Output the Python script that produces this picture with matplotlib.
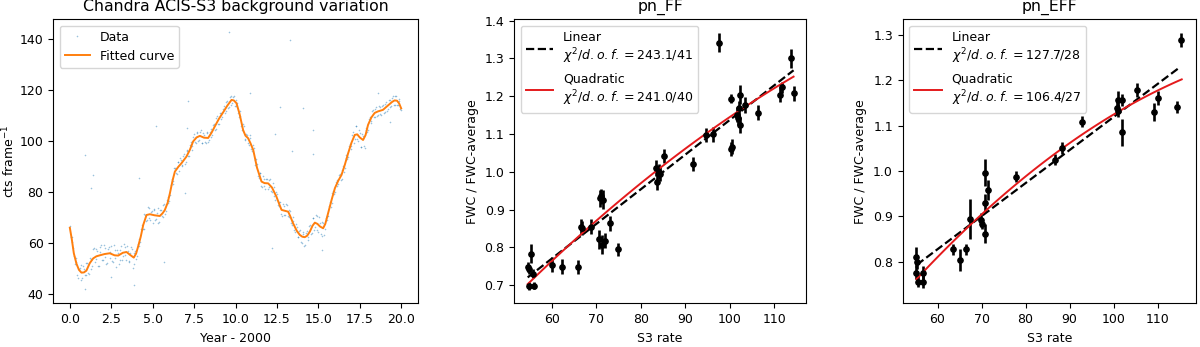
import numpy as np
import matplotlib
matplotlib.use("Agg")
import matplotlib.pyplot as plt

plt.rcParams["font.size"] = 9

years = [round(0.1 * i, 1) for i in range(201)]
rates = [
    66.6, 60.5, 58.1, 51.8, 52.6, 46.3, 50.5, 45.6, 51.0, 47.7,
    52.4, 48.2, 54.2, 49.9, 57.6, 52.7, 57.6, 51.2, 56.5, 59.2,
    53.3, 58.3, 51.9, 57.7, 54.2, 59.1, 52.6, 57.3, 50.6, 56.1,
    53.3, 58.8, 54.9, 58.5, 53.3, 57.1, 53.2, 58.4, 50.5, 56.3,
    54.0, 59.8, 59.0, 65.7, 65.6, 71.4, 68.7, 74.1, 69.8, 72.4,
    68.1, 73.2, 69.5, 73.7, 68.3, 72.9, 70.2, 75.4, 72.7, 78.3,
    76.6, 82.8, 83.1, 89.6, 87.4, 91.8, 88.3, 92.7, 90.8, 95.1,
    91.7, 96.3, 94.4, 99.6, 98.1, 102.7, 99.3, 103.2, 100.5, 104.3,
    99.2, 102.5, 99.3, 103.1, 100.6, 104.8, 102.4, 106.7, 104.9, 109.8,
    106.9, 111.1, 109.6, 113.8, 111.7, 115.7, 113.3, 117.8, 114.9, 117.7,
    113.8, 115.0, 109.4, 110.0, 104.6, 105.9, 100.6, 102.6, 98.6, 101.1,
    96.2, 97.5, 90.8, 91.2, 85.6, 87.4, 82.1, 85.1, 81.3, 85.3,
    82.1, 85.2, 80.2, 82.0, 77.1, 79.3, 74.5, 76.0, 70.7, 74.5,
    71.2, 75.2, 70.4, 72.6, 67.0, 68.8, 64.4, 66.5, 62.5, 65.2,
    60.0, 63.7, 59.5, 64.8, 62.3, 67.0, 63.9, 70.0, 66.2, 70.6,
    64.4, 68.1, 62.7, 68.0, 65.7, 70.9, 70.8, 76.0, 75.7, 80.5,
    80.2, 84.8, 83.4, 87.0, 85.3, 90.2, 89.6, 94.5, 93.7, 98.9,
    98.1, 103.8, 100.8, 105.8, 100.1, 103.4, 97.6, 102.0, 97.2, 105.2,
    104.6, 109.4, 107.9, 112.1, 109.5, 113.5, 110.4, 113.3, 110.4, 114.2,
    111.6, 115.3, 112.5, 116.2, 113.8, 117.7, 114.4, 117.6, 114.1, 115.8,
    112.1,
]
years_mid = [round(0.1 * i + 0.05, 2) for i in range(200)]
rates_mid = [
    62.3, 62.4, 54.9, 54.2, 47.6, 49.9, 51.6, 46.4, 49.9, 47.6,
    52.3, 47.9, 53.8, 51.3, 58.2, 54.0, 57.1, 51.0, 58.7, 53.6,
    59.2, 54.6, 52.3, 58.5, 56.5, 52.9, 59.2, 54.1, 57.2, 51.8,
    57.3, 53.4, 59.6, 55.4, 58.8, 52.6, 56.3, 57.8, 52.0, 57.1,
    55.2, 61.7, 60.6, 67.0, 65.5, 71.1, 69.3, 73.9, 69.3, 72.7,
    73.4, 69.1, 72.0, 68.1, 73.0, 70.6, 75.2, 71.6, 77.0, 75.7,
    78.8, 85.3, 84.3, 89.5, 87.2, 91.8, 93.3, 90.2, 94.1, 91.0,
    96.4, 94.1, 98.6, 96.7, 101.7, 99.6, 103.8, 100.2, 103.6, 99.5,
    103.4, 99.8, 103.5, 99.8, 103.5, 101.5, 106.5, 104.6, 109.1, 106.6,
    110.9, 108.6, 112.7, 110.9, 115.4, 113.2, 117.3, 114.3, 117.5, 113.9,
    116.0, 111.0, 112.0, 105.9, 106.6, 101.0, 103.0, 99.3, 102.3, 97.0,
    98.5, 92.7, 93.1, 86.5, 87.5, 82.3, 86.2, 82.3, 85.2, 81.3,
    84.7, 80.5, 83.5, 78.5, 80.3, 75.2, 76.2, 71.6, 75.5, 71.1,
    75.5, 70.9, 73.1, 67.8, 70.2, 65.4, 67.7, 62.6, 65.0, 60.5,
    64.5, 59.1, 64.1, 61.4, 66.9, 63.8, 70.0, 65.3, 71.2, 65.3,
    70.3, 63.5, 68.5, 63.1, 70.1, 69.3, 74.6, 74.2, 79.6, 79.3,
    83.9, 82.6, 86.8, 84.9, 88.9, 88.1, 93.5, 93.0, 98.2, 96.9,
    102.5, 99.4, 106.1, 100.7, 104.5, 97.6, 102.9, 98.2, 104.3, 103.6,
    108.7, 107.1, 111.8, 109.5, 112.8, 109.8, 113.8, 110.6, 114.0, 111.0,
    114.6, 112.0, 116.3, 113.5, 117.1, 114.4, 117.9, 114.4, 116.6, 112.5,
]
outlier_years = [0.9, 1.37, 1.27, 4.17, 5.23, 5.7, 3.86, 0.9, 2.5, 7.05,
                 10.9, 7.15, 6.95, 12.4, 12.2, 13.4, 12.7, 14.1, 14.7, 14.7,
                 18.6, 19.3, 15.2, 9.6, 13.3]
outlier_rates = [94.6, 86.8, 81.6, 85.5, 106.0, 52.8, 43.6, 42.0, 46.9, 105.1,
                 118.8, 115.9, 79.6, 102.7, 58.0, 96.3, 113.6, 113.0, 104.4, 95.0,
                 119.1, 107.7, 57.4, 142.7, 139.7]

# fitted curve (knots)
fit_years = [0.0, 0.12, 0.24, 0.4, 0.55, 0.7, 0.85, 1.0, 1.2, 1.41, 1.6, 1.81,
             2.1, 2.41, 2.7, 2.92, 3.2, 3.42, 3.65, 3.86, 4.0, 4.12, 4.28,
             4.43, 4.63, 4.83, 5.1, 5.43, 5.6, 5.73, 5.9, 6.04, 6.2, 6.34,
             6.55, 6.74, 7.04, 7.25, 7.44, 7.65, 7.85, 8.1, 8.35, 8.55, 8.75,
             9.0, 9.26, 9.5, 9.76, 9.9, 10.06, 10.25, 10.46, 10.6, 10.76,
             10.9, 11.07, 11.3, 11.57, 11.75, 11.97, 12.2, 12.47, 12.65, 12.78,
             12.95, 13.18, 13.3, 13.48, 13.7, 13.88, 14.03, 14.18, 14.33,
             14.49, 14.65, 14.79, 14.95, 15.1, 15.29, 15.42, 15.59, 15.8, 16.0,
             16.2, 16.4, 16.6, 16.8, 17.0, 17.2, 17.35, 17.5, 17.7, 17.85,
             18.0, 18.2, 18.4, 18.6, 18.9, 19.2, 19.45, 19.6, 19.75, 19.88, 20.0]
fit_rates = [66.1, 61.5, 56.1, 52.0, 49.6, 48.5, 48.6, 49.3, 52.2, 54.1, 54.9, 55.3,
             55.8, 56.1, 55.3, 55.2, 56.3, 56.6, 55.4, 54.4, 56.0, 58.7, 62.6,
             67.2, 71.1, 71.4, 71.0, 70.7, 71.8, 73.0, 75.8, 79.6, 84.6, 88.1,
             90.0, 91.4, 94.0, 96.7, 99.9, 101.5, 102.1, 101.4, 101.3, 103.3, 105.8,
             108.8, 111.4, 113.9, 116.2, 116.0, 114.9, 110.6, 104.4, 102.2, 101.2,
             99.3, 96.6, 89.6, 84.2, 83.6, 83.5, 81.9, 78.3, 75.2, 73.1,
             72.8, 72.4, 70.7, 67.8, 64.9, 63.3, 62.6, 62.4, 63.0,
             64.6, 66.9, 68.1, 67.6, 66.6, 65.9, 67.6, 71.8, 77.0, 81.6,
             84.5, 86.8, 90.8, 95.3, 99.4, 102.5, 102.7, 101.5, 100.5, 102.4,
             106.4, 109.3, 111.1, 111.7, 112.3, 114.0, 115.4, 116.0, 115.9, 114.8, 112.9]

# --- pn_FF: S3 rate vs FWC ratio
ff_s3 = [54.6, 54.9, 55.3, 55.0, 56.1, 55.9, 60.1, 62.2, 65.8, 66.6, 66.7,
         68.8, 70.9, 71.1, 71.6, 70.7, 71.3, 71.9, 73.0, 74.8, 83.4, 83.6,
         84.0, 84.2, 85.2, 91.8, 94.7, 96.1, 97.5, 100.2, 100.4, 100.3,
         101.6, 101.8, 102.1, 102.2, 102.3, 103.3, 106.4, 111.3, 111.8,
         113.7, 114.3]
ff_ratio = [0.749, 0.742, 0.783, 0.698, 0.699, 0.730, 0.754, 0.749, 0.748,
            0.855, 0.851, 0.855, 0.930, 0.935, 0.926, 0.822, 0.807, 0.818,
            0.864, 0.795, 1.010, 0.974, 1.001, 0.995, 1.042, 1.021, 1.098,
            1.100, 1.342, 1.193, 1.067, 1.061, 1.151, 1.142, 1.168, 1.204,
            1.124, 1.177, 1.157, 1.204, 1.224, 1.301, 1.208]
ff_err = [0.013, 0.012, 0.025, 0.010, 0.010, 0.012, 0.020, 0.020, 0.018,
          0.020, 0.018, 0.020, 0.022, 0.020, 0.025, 0.025, 0.025, 0.020,
          0.020, 0.018, 0.022, 0.022, 0.020, 0.018, 0.018, 0.018, 0.018,
          0.020, 0.025, 0.012, 0.020, 0.018, 0.020, 0.018, 0.020, 0.025,
          0.020, 0.020, 0.020, 0.020, 0.015, 0.025, 0.020]
# fit curves (x, y samples)
ff_lin_x = [54.6, 83.2, 114.3]
ff_lin_y = [0.720, 0.985, 1.268]
ff_quad_x = [54.6, 83.2, 114.3]
ff_quad_y = [0.703, 1.000, 1.252]
ff_labels = [r"Linear" "\n" r"$\chi^2/d.o.f. = 243.1/41$",
             r"Quadratic" "\n" r"$\chi^2/d.o.f. = 241.0/40$"]

# --- pn_EFF
eff_s3 = [55.2, 55.3, 55.2, 55.5, 56.6, 56.7, 63.5, 65.2, 66.5, 67.3, 69.9,
          70.2, 70.8, 70.8, 70.8, 71.4, 77.9, 86.8, 88.3, 92.8, 100.9,
          101.1, 101.0, 102.0, 101.9, 105.3, 109.3, 110.0, 114.4, 115.4]
eff_ratio = [0.811, 0.800, 0.776, 0.756, 0.756, 0.776, 0.827, 0.804, 0.827,
             0.895, 0.892, 0.884, 0.996, 0.930, 0.862, 0.958, 0.987, 1.025,
             1.050, 1.108, 1.138, 1.156, 1.133, 1.156, 1.085, 1.178, 1.129,
             1.160, 1.141, 1.288]
eff_err = [0.022, 0.015, 0.015, 0.012, 0.015, 0.015, 0.012, 0.025, 0.012,
           0.044, 0.015, 0.012, 0.030, 0.020, 0.020, 0.022, 0.012, 0.012,
           0.013, 0.012, 0.015, 0.020, 0.015, 0.013, 0.030, 0.015, 0.020,
           0.015, 0.013, 0.015]
eff_lin_x = [55.3, 88.3, 115.2]
eff_lin_y = [0.793, 1.034, 1.229]
eff_quad_x = [55.2, 70.0, 78.0, 87.9, 100.8, 115.5]
eff_quad_y = [0.757, 0.908, 0.981, 1.042, 1.119, 1.207]
eff_labels = [r"Linear" "\n" r"$\chi^2/d.o.f. = 127.7/28$",
              r"Quadratic" "\n" r"$\chi^2/d.o.f. = 106.4/27$"]


def plot_fwc(ax, s3, ratio, err, lin, quad, labels, title):
    ax.errorbar(s3, ratio, yerr=err, fmt="o", color="black", ms=3.8,
                elinewidth=1.9, capsize=0)
    # smooth the read-off fit samples with a polynomial of the same order
    xs = np.linspace(min(lin[0]), max(lin[0]), 100)
    ax.plot(xs, np.polyval(np.polyfit(lin[0], lin[1], 1), xs), "k--",
            lw=1.6, label=labels[0])
    xs = np.linspace(min(quad[0]), max(quad[0]), 100)
    ax.plot(xs, np.polyval(np.polyfit(quad[0], quad[1], 2), xs),
            color="#e41a1c", lw=1.4, label=labels[1])
    ax.legend(loc="upper left", fontsize=9, handlelength=2.2)
    ax.set_title(title, fontsize=11.3)
    ax.set_xlabel("S3 rate")
    ax.set_ylabel("FWC / FWC-average")


fig = plt.figure(figsize=(12, 3.47), dpi=100)
ax1 = fig.add_axes([0.0444, 0.126, 0.3037, 0.8184])
ax2 = fig.add_axes([0.4286, 0.126, 0.2431, 0.8184])
ax3 = fig.add_axes([0.7523, 0.126, 0.2442, 0.8184])

ax1.plot(years + years_mid + outlier_years, rates + rates_mid + outlier_rates,
         ".", color="C0", ms=2.3, alpha=0.45, mew=0, label="Data")
ax1.plot(fit_years, fit_rates, color="C1", lw=1.4, label="Fitted curve")
ax1.set_xlim(-1.0, 21.0)
ax1.set_ylim(36.5, 147.8)
ax1.set_xticks(np.arange(0, 20.1, 2.5))
ax1.set_xlabel("Year - 2000")
ax1.set_ylabel("cts frame$^{-1}$")
ax1.yaxis.set_label_coords(-0.098, 0.5)
ax1.set_title("Chandra ACIS-S3 background variation", fontsize=11.3)
ax1.legend(loc="upper left", fontsize=9)

plot_fwc(ax2, ff_s3, ff_ratio, ff_err, (ff_lin_x, ff_lin_y),
         (ff_quad_x, ff_quad_y), ff_labels, "pn_FF")
ax2.set_xlim(51.6, 117.1)
ax2.set_ylim(0.6524, 1.4037)

plot_fwc(ax3, eff_s3, eff_ratio, eff_err, (eff_lin_x, eff_lin_y),
         (eff_quad_x, eff_quad_y), eff_labels, "pn_EFF")
ax3.set_xlim(52.1, 118.7)
ax3.set_ylim(0.7084, 1.334)
ax3.set_yticks([0.8, 0.9, 1.0, 1.1, 1.2, 1.3])

fig.savefig("out.png", dpi=100)
